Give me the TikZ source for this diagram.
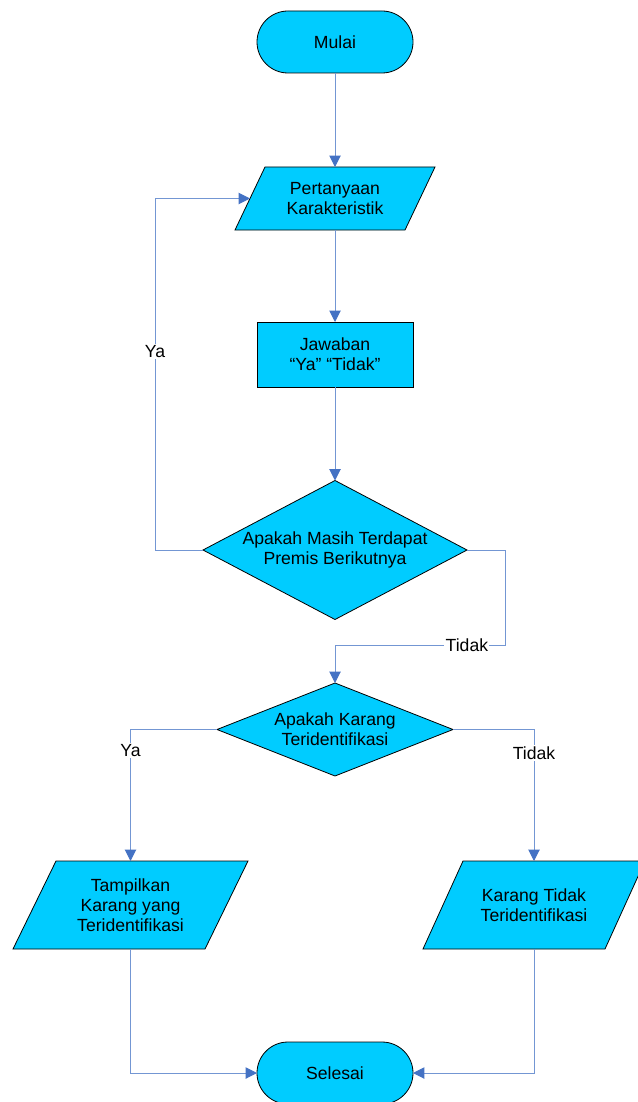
\documentclass[tikz,border=0pt]{standalone}
\usepackage{fontspec}
\setmainfont{Liberation Sans}
\usetikzlibrary{arrows.meta,calc,backgrounds}
\definecolor{shapefill}{HTML}{00CCFF}
\definecolor{linkblue}{HTML}{7396D3}
\definecolor{tipblue}{HTML}{4472C4}

\tikzset{
  txt/.style={font=\fontsize{13.2}{15}\selectfont, align=center},
  box/.style={txt, draw=black, fill=shapefill, line width=0.6pt, inner sep=0pt, outer sep=0pt},
  terminal/.style={box, rounded corners=23.25pt, minimum width=117pt, minimum height=46.5pt},
  process/.style={box, minimum width=117pt, minimum height=48.75pt},
  holder/.style={txt, inner sep=0pt, outer sep=0pt},
  outline/.style={draw=black, fill=shapefill, line width=0.6pt, line join=miter},
  flow/.style={draw=linkblue, line width=0.75pt, -{Triangle[length=8.5pt,width=8.5pt,color=tipblue]}},
  lbl/.style={txt, fill=white, inner sep=1pt},
}

\begin{document}
\begin{tikzpicture}[x=0.75pt, y=-0.75pt]
  \useasboundingbox (0,0) rectangle (637,1102);

  % terminals and process box
  \node[terminal] (mulai) at (335,42) {Mulai};
  \node[process] (jaw) at (335,354.5) {Jawaban\\“Ya” “Tidak”};
  \node[terminal] (sel) at (335,1073) {Selesai};

  % text holders for parallelograms and decisions
  \node[holder, minimum width=127.5pt, minimum height=47.25pt] (pert) at (335,198.5) {Pertanyaan\\Karakteristik};
  \node[holder, minimum width=198pt, minimum height=104.25pt] (d1) at (335,550) {Apakah Masih Terdapat\\Premis Berikutnya};
  \node[holder, minimum width=177pt, minimum height=69.75pt] (d2) at (335,729.5) {Apakah Karang\\Teridentifikasi};
  \node[holder, minimum width=144pt, minimum height=66pt] (tamp) at (130.5,905) {Tampilkan\\Karang yang\\Teridentifikasi};
  \node[holder, minimum width=136.5pt, minimum height=66pt] (kt) at (534,905) {Karang Tidak\\Teridentifikasi};

  \begin{scope}[on background layer]
    % input/output parallelograms
    \path[outline] ($(pert.north west)+(11.25pt,0)$) -- ($(pert.north east)+(11.25pt,0)$)
      -- ($(pert.south east)+(-11.25pt,0)$) -- ($(pert.south west)+(-11.25pt,0)$) -- cycle;
    \path[outline] ($(tamp.north west)+(16.125pt,0)$) -- ($(tamp.north east)+(16.125pt,0)$)
      -- ($(tamp.south east)+(-16.125pt,0)$) -- ($(tamp.south west)+(-16.125pt,0)$) -- cycle;
    \path[outline] ($(kt.north west)+(15pt,0)$) -- ($(kt.north east)+(15pt,0)$)
      -- ($(kt.south east)+(-15pt,0)$) -- ($(kt.south west)+(-15pt,0)$) -- cycle;
    % decisions
    \path[outline] (d1.north) -- (d1.east) -- (d1.south) -- (d1.west) -- cycle;
    \path[outline] (d2.north) -- (d2.east) -- (d2.south) -- (d2.west) -- cycle;
  \end{scope}

  % connectors
  \draw[flow] (mulai) -- (pert);
  \draw[flow] (pert) -- (jaw);
  \draw[flow] (jaw) -- (d1);
  \draw[flow] (d1.west) -- ++(-48,0) |- node[lbl, pos=0.283] {Ya} (pert.west);
  \draw[flow] (d1.east) -- ++(38,0) -- ++(0,95) -| node[lbl, pos=0.112] {Tidak} (d2.north);
  \draw[flow] (d2.west) -| node[lbl, pos=0.58] {Ya} (tamp.north);
  \draw[flow] (d2.east) -| node[lbl, pos=0.59] {Tidak} (kt.north);
  \draw[flow] (tamp.south) |- (sel.west);
  \draw[flow] (kt.south) |- (sel.east);
\end{tikzpicture}
\end{document}
